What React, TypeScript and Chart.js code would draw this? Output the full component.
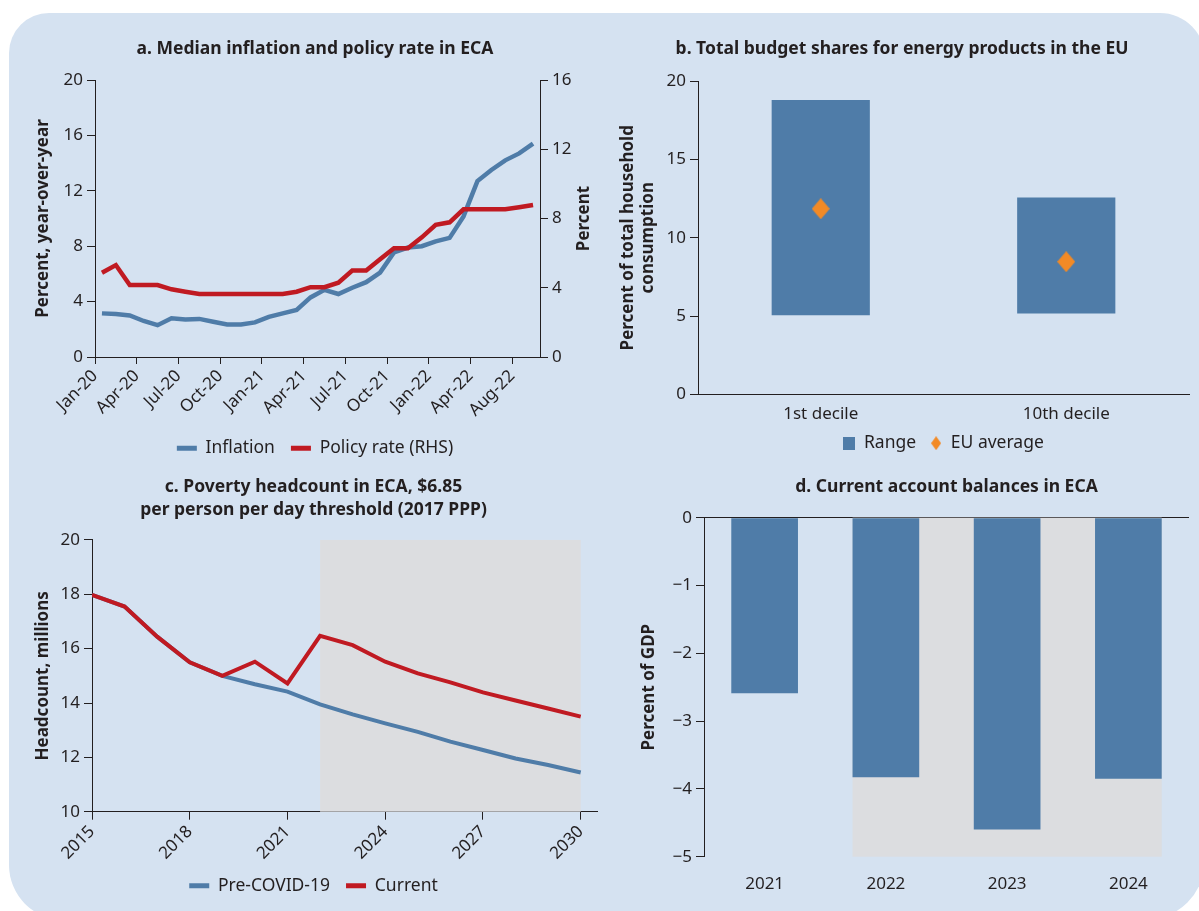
import React, { useEffect, useRef } from 'react';
import { Chart, registerables } from 'chart.js';

Chart.register(...registerables);

// ---------- Panel a: median inflation and policy rate ----------
const monthLabels = [
  'Jan-20', 'Feb-20', 'Mar-20', 'Apr-20', 'May-20', 'Jun-20', 'Jul-20', 'Aug-20', 'Sep-20', 'Oct-20', 'Nov-20', 'Dec-20',
  'Jan-21', 'Feb-21', 'Mar-21', 'Apr-21', 'May-21', 'Jun-21', 'Jul-21', 'Aug-21', 'Sep-21', 'Oct-21', 'Nov-21', 'Dec-21',
  'Jan-22', 'Feb-22', 'Mar-22', 'Apr-22', 'May-22', 'Jun-22', 'Jul-22', 'Aug-22',
];
const inflation = [
  3.15, 3.1, 3.0, 2.6, 2.3, 2.8, 2.7, 2.75, 2.55, 2.35, 2.35, 2.5,
  2.9, 3.15, 3.4, 4.3, 4.85, 4.55, 5.0, 5.4, 6.1, 7.55, 7.9, 8.0,
  8.35, 8.6, 10.15, 12.7, 13.5, 14.2, 14.7, 15.4,
];
const policyRate = [
  4.87, 5.31, 4.16, 4.16, 4.16, 3.91, 3.77, 3.64, 3.64, 3.64, 3.64, 3.64,
  3.64, 3.64, 3.77, 4.03, 4.03, 4.29, 4.99, 4.99, 5.64, 6.28, 6.28, 6.91,
  7.63, 7.78, 8.53, 8.53, 8.53, 8.53, 8.65, 8.78,
];
const monthTickPositions = [0, 3, 6, 9, 12, 15, 18, 21, 24, 27, 30];
const monthTickLabels = ['Jan-20', 'Apr-20', 'Jul-20', 'Oct-20', 'Jan-21', 'Apr-21', 'Jul-21', 'Oct-21', 'Jan-22', 'Apr-22', 'Aug-22'];

// ---------- Panel b: energy budget shares ----------
const deciles = ['1st decile', '10th decile'];
const rangeLow = [5.06, 5.17];
const rangeHigh = [18.78, 12.57];
const euAverage = [11.85, 8.47];

// ---------- Panel c: poverty headcount ----------
const povertyYears = [2015, 2016, 2017, 2018, 2019, 2020, 2021, 2022, 2023, 2024, 2025, 2026, 2027, 2028, 2029, 2030];
const preCovid = [17.98, 17.55, 16.44, 15.5, 15.0, 14.69, 14.42, 13.95, 13.58, 13.25, 12.94, 12.58, 12.27, 11.96, 11.72, 11.44];
const currentHeadcount = [17.98, 17.55, 16.44, 15.5, 15.0, 15.52, 14.72, 16.47, 16.13, 15.52, 15.09, 14.76, 14.39, 14.09, 13.8, 13.5];
const povertyTickYears = [2015, 2018, 2021, 2024, 2027, 2030];
const povertyProjection = [2022, 2030];

// ---------- Panel d: current account balances ----------
const caYears = ['2021', '2022', '2023', '2024'];
const caBalance = [-2.59, -3.83, -4.6, -3.85];
const caProjection = ['2022', '2024'];

// ---------- styling ----------
const FONT = '"Noto Sans", sans-serif';
const INK = '#231f20';
const BLUE = '#4f7ca8';
const RED = '#c01a22';
const ORANGE = '#f28a26';
const SHADE = '#dcdde0';
const PANEL_BG = '#d5e2f1';

Chart.defaults.font.family = FONT;
Chart.defaults.color = INK;

const tickFont = { size: 17 };
const legendFont = { size: 17.5 };
const titleFont = { size: 17.5, weight: 'bold' as const, lineHeight: 1.2 };
const axisTitleFont = { size: 17, weight: 'bold' as const, lineHeight: 1.2 };

const lineLegendLabels = (chart: any) =>
  (Chart.defaults.plugins.legend.labels as any).generateLabels(chart).map((it: any) => ({
    ...it,
    fillStyle: it.strokeStyle,
    lineWidth: 0,
  }));

function makeIcon(shape: 'square' | 'diamond', w: number, h: number, color: string) {
  const c = document.createElement('canvas');
  c.width = w;
  c.height = h;
  const g = c.getContext('2d')!;
  g.fillStyle = color;
  if (shape === 'square') {
    g.fillRect(0, 0, w, h);
  } else {
    g.beginPath();
    g.moveTo(w / 2, 0);
    g.lineTo(w, h / 2);
    g.lineTo(w / 2, h);
    g.lineTo(0, h / 2);
    g.closePath();
    g.fill();
  }
  return c;
}

const axisGrid = (tickLength: number) => ({
  display: true,
  drawOnChartArea: false,
  drawTicks: true,
  tickLength,
  color: INK,
  lineWidth: 1,
});

const rightTitlePlugin = (text: string, dx: number) => ({
  id: 'rightTitle',
  afterDraw(chart: any) {
    const s = chart.scales.y2;
    const ctx = chart.ctx;
    ctx.save();
    ctx.translate(s.left + dx, (s.top + s.bottom) / 2);
    ctx.rotate(-Math.PI / 2);
    ctx.font = `bold 17px ${FONT}`;
    ctx.fillStyle = INK;
    ctx.textAlign = 'center';
    ctx.textBaseline = 'middle';
    ctx.fillText(text, 0, 0);
    ctx.restore();
  },
});

const xRangeShade = (from: number, to: number) => ({
  id: 'xRangeShade',
  beforeDatasetsDraw(chart: any) {
    const { ctx, chartArea, scales } = chart;
    const x0 = scales.x.getPixelForValue(from);
    const x1 = scales.x.getPixelForValue(to);
    ctx.save();
    ctx.fillStyle = SHADE;
    ctx.fillRect(x0, chartArea.top, x1 - x0, chartArea.bottom - chartArea.top);
    ctx.restore();
  },
});

const barRangeShade = (first: string, last: string) => ({
  id: 'barRangeShade',
  beforeDatasetsDraw(chart: any) {
    const { ctx, scales } = chart;
    const labels = chart.data.labels as string[];
    const meta = chart.getDatasetMeta(0);
    const a = meta.data[labels.indexOf(first)] as any;
    const b = meta.data[labels.indexOf(last)] as any;
    const left = a.x - a.width / 2;
    const right = b.x + b.width / 2;
    const top = scales.y.getPixelForValue(scales.y.max);
    const bottom = scales.y.getPixelForValue(scales.y.min);
    ctx.save();
    ctx.fillStyle = SHADE;
    ctx.fillRect(left, top, right - left, bottom - top);
    ctx.restore();
  },
});

function configA(): any {
  return {
    type: 'line',
    data: {
      datasets: [
        {
          label: 'Policy rate (RHS)',
          data: policyRate.map((v, i) => ({ x: i + 0.5, y: v, m: monthLabels[i] })),
          borderColor: RED,
          backgroundColor: RED,
          borderWidth: 4.5,
          pointRadius: 0,
          yAxisID: 'y2',
        },
        {
          label: 'Inflation',
          data: inflation.map((v, i) => ({ x: i + 0.5, y: v, m: monthLabels[i] })),
          borderColor: BLUE,
          backgroundColor: BLUE,
          borderWidth: 4.5,
          pointRadius: 0,
          yAxisID: 'y',
        },
      ],
    },
    options: {
      responsive: false,
      animation: false,
      devicePixelRatio: 1,
      layout: { padding: { left: 0, right: 0, top: 0, bottom: 8 } },
      plugins: {
        tooltip: { enabled: false },
        title: {
          display: true,
          text: 'a. Median inflation and policy rate in ECA',
          font: titleFont,
          color: INK,
          padding: { top: 38.8, bottom: 20.2 },
        },
        legend: {
          position: 'bottom',
          reverse: true,
          labels: { boxWidth: 20, boxHeight: 5, font: legendFont, color: INK, padding: 16, generateLabels: lineLegendLabels },
        },
      },
      scales: {
        x: {
          type: 'linear',
          min: 0,
          max: monthLabels.length,
          afterBuildTicks: (s: any) => {
            s.ticks = monthTickPositions.map((v) => ({ value: v }));
          },
          afterFit: (s: any) => {
            s.height = 66.5;
          },
          ticks: {
            autoSkip: false,
            minRotation: 45,
            maxRotation: 45,
            font: tickFont,
            color: INK,
            padding: 2,
            callback: (v: number) => monthTickLabels[monthTickPositions.indexOf(v)] ?? '',
          },
          grid: axisGrid(7),
          border: { display: true, color: INK, width: 1 },
        },
        y: {
          position: 'left',
          min: 0,
          max: 20,
          afterFit: (s: any) => {
            s.width = 65;
          },
          ticks: { stepSize: 4, font: tickFont, color: INK, padding: 4 },
          grid: axisGrid(8),
          border: { display: true, color: INK, width: 1 },
          title: { display: true, text: 'Percent, year-over-year', font: axisTitleFont, color: INK, padding: { top: 3, bottom: 0 } },
        },
        y2: {
          position: 'right',
          min: 0,
          max: 16,
          afterFit: (s: any) => {
            s.width = 60;
          },
          ticks: { stepSize: 4, font: tickFont, color: INK, padding: 4 },
          grid: axisGrid(8),
          border: { display: true, color: INK, width: 1 },
        },
      },
    },
    plugins: [rightTitlePlugin('Percent', 44)],
  };
}

function configB(): any {
  const square = makeIcon('square', 12, 13, BLUE);
  const diamondSmall = makeIcon('diamond', 10, 14, ORANGE);
  const diamondBig = makeIcon('diamond', 18, 21, ORANGE);
  return {
    type: 'bar',
    data: {
      labels: deciles,
      datasets: [
        {
          type: 'line',
          label: 'EU average',
          data: euAverage,
          showLine: false,
          pointStyle: diamondBig,
          pointRadius: 10,
          backgroundColor: ORANGE,
          borderColor: ORANGE,
        },
        {
          type: 'bar',
          label: 'Range',
          data: rangeLow.map((lo, i) => [lo, rangeHigh[i]]),
          backgroundColor: BLUE,
          borderWidth: 0,
          barPercentage: 0.4,
          categoryPercentage: 1,
        },
      ],
    },
    options: {
      responsive: false,
      animation: false,
      devicePixelRatio: 1,
      layout: { padding: { left: 5, right: 26, top: 0, bottom: 13 } },
      plugins: {
        tooltip: { enabled: false },
        title: {
          display: true,
          text: 'b. Total budget shares for energy products in the EU',
          font: titleFont,
          color: INK,
          padding: { top: 38.8, bottom: 21.2 },
        },
        legend: {
          position: 'bottom',
          reverse: true,
          fullSize: false,
          labels: {
            usePointStyle: true,
            boxWidth: 12,
            boxHeight: 12,
            font: legendFont,
            color: INK,
            padding: 14,
            generateLabels: (chart: any) =>
              (Chart.defaults.plugins.legend.labels as any).generateLabels(chart).map((it: any) => ({
                ...it,
                pointStyle: it.datasetIndex === 1 ? square : diamondSmall,
                lineWidth: 0,
              })),
          },
        },
      },
      scales: {
        x: {
          type: 'category',
          afterFit: (s: any) => {
            s.height = 26;
          },
          ticks: { font: tickFont, color: INK, padding: 9.5 },
          grid: { display: false, drawTicks: false },
          border: { display: true, color: INK, width: 1 },
        },
        y: {
          min: 0,
          max: 20,
          afterFit: (s: any) => {
            s.width = 83;
          },
          ticks: { stepSize: 5, font: tickFont, color: INK, padding: 4 },
          grid: axisGrid(8),
          border: { display: true, color: INK, width: 1 },
          title: {
            display: true,
            text: ['Percent of total household', 'consumption'],
            font: axisTitleFont,
            color: INK,
            padding: { top: 3, bottom: 0 },
          },
        },
      },
    },
  };
}

function configC(): any {
  return {
    type: 'line',
    data: {
      datasets: [
        {
          label: 'Current',
          data: povertyYears.map((y, i) => ({ x: y, y: currentHeadcount[i] })),
          borderColor: RED,
          backgroundColor: RED,
          borderWidth: 4,
          pointRadius: 0,
        },
        {
          label: 'Pre-COVID-19',
          data: povertyYears.map((y, i) => ({ x: y, y: preCovid[i] })),
          borderColor: BLUE,
          backgroundColor: BLUE,
          borderWidth: 4,
          pointRadius: 0,
        },
      ],
    },
    options: {
      responsive: false,
      animation: false,
      devicePixelRatio: 1,
      layout: { padding: { left: 0, right: 3, top: 0, bottom: 6.5 } },
      plugins: {
        tooltip: { enabled: false },
        title: {
          display: true,
          text: ['c. Poverty headcount in ECA, $6.85', 'per person per day threshold (2017 PPP)'],
          font: { size: 17.5, weight: 'bold', lineHeight: 1.33 },
          color: INK,
          padding: { top: 15, bottom: 18.4 },
        },
        legend: {
          position: 'bottom',
          reverse: true,
          labels: { boxWidth: 20, boxHeight: 5, font: legendFont, color: INK, padding: 16, generateLabels: lineLegendLabels },
        },
      },
      scales: {
        x: {
          type: 'linear',
          min: povertyYears[0],
          max: povertyYears[povertyYears.length - 1] + 0.5,
          z: 1,
          afterBuildTicks: (s: any) => {
            s.ticks = povertyTickYears.map((v) => ({ value: v }));
          },
          afterFit: (s: any) => {
            s.height = 49.3;
          },
          ticks: {
            autoSkip: false,
            minRotation: 45,
            maxRotation: 45,
            font: tickFont,
            color: INK,
            padding: 2,
            callback: (v: number) => String(v),
          },
          grid: axisGrid(8),
          border: { display: true, color: INK, width: 1 },
        },
        y: {
          min: 10,
          max: 20,
          afterFit: (s: any) => {
            s.width = 62;
          },
          ticks: { stepSize: 2, font: tickFont, color: INK, padding: 4 },
          grid: axisGrid(8),
          border: { display: true, color: INK, width: 1 },
          title: { display: true, text: 'Headcount, millions', font: axisTitleFont, color: INK, padding: { top: 3, bottom: 0 } },
        },
      },
    },
    plugins: [xRangeShade(povertyProjection[0], povertyProjection[1])],
  };
}

function configD(): any {
  return {
    type: 'bar',
    data: {
      labels: caYears,
      datasets: [
        {
          label: 'Current account balance',
          data: caBalance,
          backgroundColor: BLUE,
          borderWidth: 0,
          barPercentage: 0.55,
          categoryPercentage: 1,
        },
      ],
    },
    options: {
      responsive: false,
      animation: false,
      devicePixelRatio: 1,
      layout: { padding: { left: 26, right: 10, top: 0, bottom: 0 } },
      plugins: {
        tooltip: { enabled: false },
        legend: { display: false },
        title: {
          display: true,
          fullSize: false,
          text: 'd. Current account balances in ECA',
          font: titleFont,
          color: INK,
          padding: { top: 16.2, bottom: 20.5 },
        },
      },
      scales: {
        x: {
          type: 'category',
          afterFit: (s: any) => {
            s.height = 54.3;
          },
          ticks: { font: tickFont, color: INK, padding: 17 },
          grid: { display: false, drawTicks: false },
          border: { display: false },
        },
        y: {
          min: -5,
          max: 0,
          z: 1,
          afterFit: (s: any) => {
            s.width = 68;
          },
          ticks: {
            stepSize: 1,
            font: tickFont,
            color: INK,
            padding: 4,
            callback: (v: number) => (v < 0 ? '\u2212' + Math.abs(v) : String(v)),
          },
          grid: {
            display: true,
            drawOnChartArea: true,
            drawTicks: true,
            tickLength: 8,
            color: (ctx: any) => (ctx.tick && ctx.tick.value === 0 ? INK : 'rgba(0,0,0,0)'),
            tickColor: INK,
            lineWidth: 1,
          },
          border: { display: true, color: INK, width: 1 },
          title: { display: true, text: 'Percent of GDP', font: axisTitleFont, color: INK, padding: { top: 3, bottom: 0 } },
        },
      },
    },
    plugins: [barRangeShade(caProjection[0], caProjection[1])],
  };
}

function ChartCanvas(props: { make: () => any; left: number; top: number; width: number; height: number }) {
  const ref = useRef<HTMLCanvasElement>(null);
  useEffect(() => {
    const chart = new Chart(ref.current as HTMLCanvasElement, props.make());
    return () => chart.destroy();
  }, []);
  return (
    <canvas
      ref={ref}
      width={props.width}
      height={props.height}
      style={{ position: 'absolute', left: props.left, top: props.top, width: props.width, height: props.height }}
    />
  );
}

export default function App() {
  return (
    <div
      style={{
        position: 'absolute',
        left: 0,
        top: 0,
        width: 1199,
        height: 911,
        overflow: 'hidden',
        background: '#ffffff',
      }}
    >
      <div
        style={{
          position: 'absolute',
          left: 9,
          top: 13,
          width: 1196,
          height: 907,
          background: PANEL_BG,
          borderTopLeftRadius: 40,
          borderTopRightRadius: 45,
          borderBottomRightRadius: 60,
          borderBottomLeftRadius: 55,
        }}
      />
      <ChartCanvas make={configA} left={30} top={0} width={570} height={475} />
      <ChartCanvas make={configB} left={610} top={0} width={605} height={475} />
      <ChartCanvas make={configC} left={30} top={460} width={570} height={451} />
      <ChartCanvas make={configD} left={610} top={460} width={589} height={451} />
    </div>
  );
}
